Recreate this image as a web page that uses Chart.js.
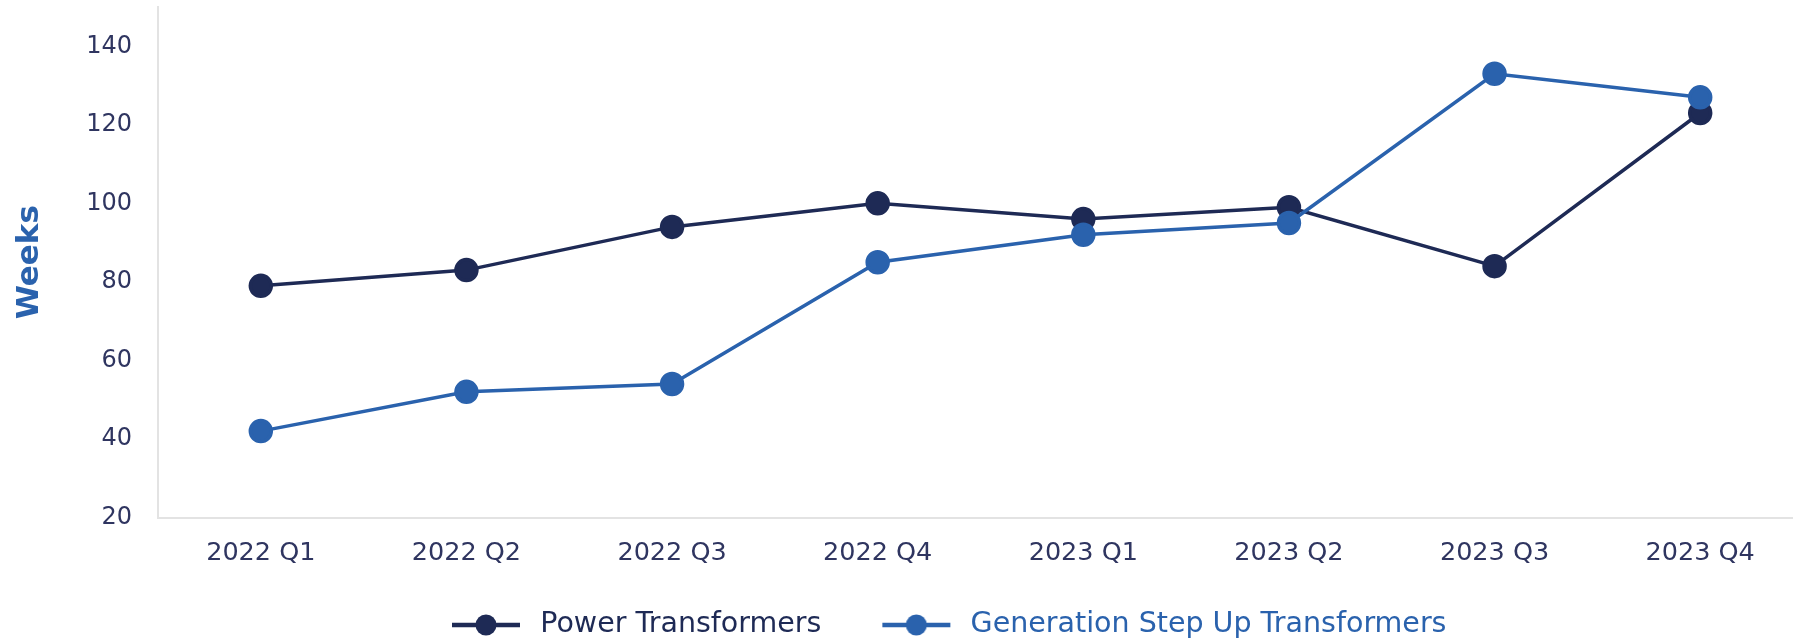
<!DOCTYPE html>
<html>
<head>
<meta charset="utf-8">
<script src="https://cdn.jsdelivr.net/npm/chart.js@4.4.1/dist/chart.umd.min.js"></script>
<style>
html,body{margin:0;padding:0;background:#ffffff;overflow:hidden}
#wrap{width:1803px;height:639px;position:relative}
</style>
</head>
<body>
<div id="wrap"><canvas id="c"></canvas></div>
<script>
const categories = ['2022 Q1','2022 Q2','2022 Q3','2022 Q4','2023 Q1','2023 Q2','2023 Q3','2023 Q4'];
const powerTransformers = [79, 83, 94, 100, 96, 99, 84, 123];
const gsuTransformers = [42, 52, 54, 85, 92, 95, 133, 127];
const yTicks = [20, 40, 60, 80, 100, 120, 140];
const seriesNames = ['Power Transformers', 'Generation Step Up Transformers'];
const axisTitle = 'Weeks';

const NAVY = '#1e2a55';
const BLUE = '#2a62ad';
const TICK = '#2f3560';
const FONT = "'DejaVu Sans', sans-serif";

function legendSwatch(color) {
  const c = document.createElement('canvas');
  const lead = 57, lineW = 68, tail = 6;
  c.width = lead + lineW + tail;
  c.height = 24;
  const g = c.getContext('2d');
  g.strokeStyle = color;
  g.lineWidth = 4.5;
  g.beginPath(); g.moveTo(lead, 12); g.lineTo(lead + lineW, 12); g.stroke();
  g.fillStyle = color;
  g.beginPath(); g.arc(lead + lineW / 2, 12, 10.5, 0, Math.PI * 2); g.fill();
  return c;
}
const swatches = [legendSwatch(NAVY), legendSwatch(BLUE)];
const legendColors = [NAVY, BLUE];

const legendShift = {
  id: 'legendShift',
  afterLayout(chart) {
    const l = chart.legend;
    if (!l || !l.lineWidths) return;
    const pad = l.options.labels.padding;
    const cur = (l.left + pad + l.right - l.lineWidths[0]) / 2;
    const dx = 395 - cur;
    l.left += dx; l.right += dx;
    const fs = l.options.labels.font.size;
    const cy = l.top + pad + fs / 2;
    const dy = 625 - cy;
    l.top += dy; l.bottom += dy;
  }
};

new Chart(document.getElementById('c'), {
  type: 'line',
  data: {
    labels: categories,
    datasets: [
      {
        label: seriesNames[0],
        data: powerTransformers,
        borderColor: NAVY,
        backgroundColor: NAVY,
        pointBackgroundColor: NAVY,
        pointBorderColor: NAVY,
        borderWidth: 3.5,
        pointRadius: 10.5,
        tension: 0,
        order: 1
      },
      {
        label: seriesNames[1],
        data: gsuTransformers,
        borderColor: BLUE,
        backgroundColor: BLUE,
        pointBackgroundColor: BLUE,
        pointBorderColor: BLUE,
        borderWidth: 3.5,
        pointRadius: 10.5,
        tension: 0,
        order: 0
      }
    ]
  },
  options: {
    responsive: true,
    maintainAspectRatio: false,
    animation: false,
    layout: { autoPadding: false, padding: { top: 7, right: 0, bottom: 0, left: 0 } },
    plugins: {
      tooltip: { enabled: false },
      legend: {
        position: 'bottom',
        align: 'center',
        labels: {
          usePointStyle: true,
          pointStyleWidth: swatches[0].width,
          padding: 4,
          font: { family: FONT, size: 28.5 },
          generateLabels(chart) {
            const items = Chart.defaults.plugins.legend.labels.generateLabels(chart);
            items.sort((a, b) => a.datasetIndex - b.datasetIndex);
            items.forEach(it => {
              it.pointStyle = swatches[it.datasetIndex];
              it.fontColor = legendColors[it.datasetIndex];
            });
            return items;
          }
        }
      }
    },
    scales: {
      x: {
        offset: true,
        grid: { display: false, drawTicks: false },
        border: { display: true, color: '#e3e3e3', width: 2 },
        ticks: { color: TICK, font: { family: FONT, size: 25.5 }, padding: 21, maxRotation: 0 },
        afterFit(s) { s.height = 79; s.paddingLeft = 0; s.paddingRight = 0; }
      },
      y: {
        min: 20,
        max: 150,
        grid: { display: false, drawTicks: false },
        border: { display: true, color: '#e3e3e3', width: 2 },
        ticks: { stepSize: 20, color: TICK, font: { family: FONT, size: 24 }, padding: 26 },
        afterBuildTicks(s) { s.ticks = yTicks.map(v => ({ value: v })); },
        afterFit(s) { s.width = 158; s.paddingTop = 0; s.paddingBottom = 0; },
        title: {
          display: true,
          text: axisTitle,
          color: BLUE,
          font: { family: FONT, size: 31, weight: 'bold' },
          padding: { top: 11, bottom: 0 }
        }
      }
    }
  },
  plugins: [legendShift]
});
</script>
</body>
</html>
